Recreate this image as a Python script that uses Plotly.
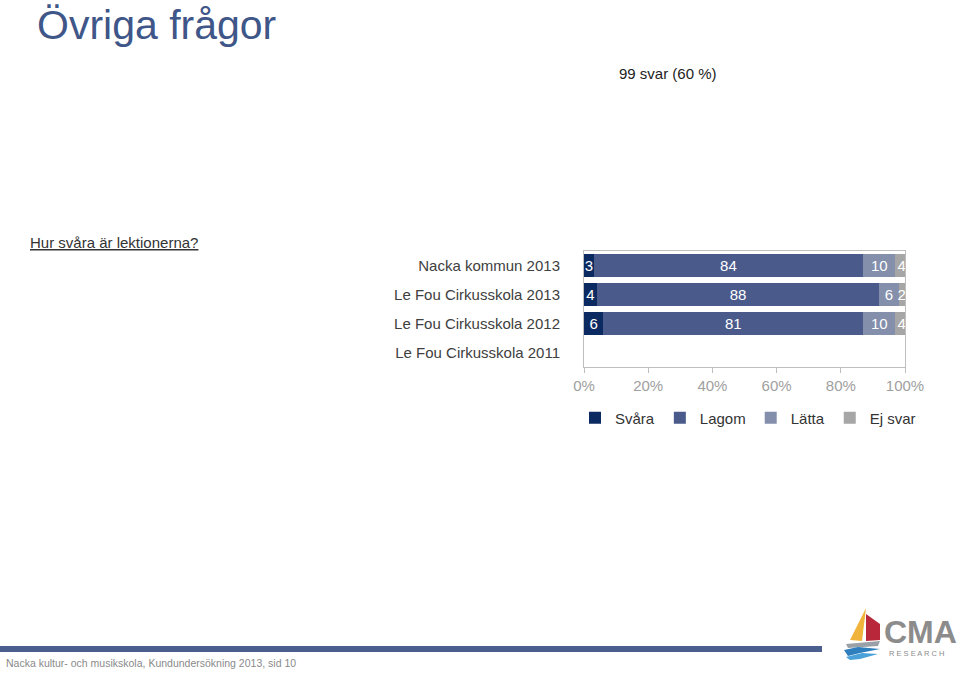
import plotly.graph_objects as go

categories = ["Nacka kommun 2013", "Le Fou Cirkusskola 2013", "Le Fou Cirkusskola 2012", "Le Fou Cirkusskola 2011"]
series_names = ["Svåra", "Lagom", "Lätta", "Ej svar"]
svara = [3, 4, 6, None]
lagom = [84, 88, 81, None]
latta = [10, 6, 10, None]
ej_svar = [4, 2, 4, None]
series_values = [svara, lagom, latta, ej_svar]
colors = ["#0c2a62", "#4a5b8b", "#838fab", "#a6a6a6"]
x_ticks = [0, 20, 40, 60, 80, 100]
x_ticklabels = ["0%", "20%", "40%", "60%", "80%", "100%"]

W, H = 960, 673
FONT = "Arial, Liberation Sans, sans-serif"

def px(x):
    return x / W

def py(y):
    return 1 - y / H

fig = go.Figure()
for name, vals, col in zip(series_names, series_values, colors):
    fig.add_trace(go.Bar(
        y=categories, x=vals, name=name, orientation="h",
        marker=dict(color=col, line=dict(width=0)),
        text=[("" if v is None else str(v)) for v in vals],
        textposition="inside", insidetextanchor="middle", textangle=0,
        textfont=dict(color="white", size=15, family=FONT),
        width=0.76, hoverinfo="skip",
    ))

fig.update_layout(
    width=W, height=H, autosize=False, barmode="stack",
    margin=dict(l=0, r=0, t=0, b=0, pad=0, autoexpand=False),
    paper_bgcolor="white", plot_bgcolor="white",
    font=dict(family=FONT, color="#333333"),
    uniformtext=dict(minsize=15, mode="show"),
    showlegend=True,
    legend=dict(orientation="h", x=px(748), xanchor="center", y=py(418), yanchor="middle",
                font=dict(size=15, color="#333333", family=FONT), itemwidth=30,
                traceorder="normal", bgcolor="rgba(0,0,0,0)"),
    xaxis=dict(domain=[px(584), px(905)], range=[0, 100], tickvals=x_ticks, ticktext=x_ticklabels,
               ticks="outside", ticklen=5, tickcolor="#bfbfbf", showgrid=False, zeroline=False,
               showline=True, linecolor="#bfbfbf", mirror=True, automargin=False,
               tickfont=dict(size=15, color="#a0a0a0", family=FONT), fixedrange=True),
    yaxis=dict(domain=[py(367), py(251)], categoryorder="array", categoryarray=categories,
               autorange="reversed", showgrid=False, zeroline=False,
               showline=True, linecolor="#bfbfbf", mirror=True, ticks="", automargin=False,
               ticklabelstandoff=20,
               tickfont=dict(size=15, color="#404040", family=FONT), fixedrange=True),
)

annotations = [
    dict(text="Övriga frågor", x=px(35), y=py(25), xanchor="left", yanchor="middle",
         font=dict(size=41, color="#3f5689", family=FONT)),
    dict(text="99 svar (60 %)", x=px(617), y=py(73), xanchor="left", yanchor="middle",
         font=dict(size=15, color="#222222", family=FONT)),
    dict(text="<u>Hur svåra är lektionerna?</u>", x=px(28), y=py(242), xanchor="left", yanchor="middle",
         font=dict(size=15, color="#333333", family=FONT)),
    dict(text="Nacka kultur- och musikskola, Kundundersökning 2013, sid 10", x=px(4), y=py(663),
         xanchor="left", yanchor="middle", font=dict(size=10.5, color="#8a8a8a", family=FONT)),
    dict(text="<b>CMA</b>", x=px(882), y=py(632), xanchor="left", yanchor="middle",
         font=dict(size=32, color="#8c8c8c", family=FONT)),
    dict(text="R E S E A R C H", x=px(887), y=py(653), xanchor="left", yanchor="middle",
         font=dict(size=7.5, color="#8c8c8c", family=FONT)),
]
for a in annotations:
    a.update(xref="paper", yref="paper", showarrow=False)
fig.update_layout(annotations=annotations)

def path(points):
    s = "M " + " L ".join(f"{px(x)} {py(y)}" for x, y in points) + " Z"
    return s

shapes = [
    dict(type="rect", x0=0, x1=px(822), y0=py(652), y1=py(646), fillcolor="#4b5f8f", line=dict(width=0)),
    dict(type="path", path=path([(866, 608), (850, 640), (862, 641)]), fillcolor="#f0b43c", line=dict(width=0)),
    dict(type="path", path=path([(866, 614), (880, 624), (880, 640), (866, 641)]), fillcolor="#b8283a", line=dict(width=0)),
    dict(type="path", path=path([(846, 644), (880, 641), (878, 646), (848, 648)]), fillcolor="#9aa0a8", line=dict(width=0)),
    dict(type="path", path=path([(844, 650), (858, 647), (880, 649), (860, 653), (848, 656)]), fillcolor="#2f7fbf", line=dict(width=0)),
    dict(type="path", path=path([(846, 657), (862, 653), (878, 654), (860, 659), (850, 660)]), fillcolor="#4aa0d8", line=dict(width=0)),
]
for s in shapes:
    s.update(xref="paper", yref="paper", layer="above")
fig.update_layout(shapes=shapes)

fig.write_html("out.html", config={"responsive": False},
               post_script="document.body.style.margin='0';document.body.style.overflow='hidden';")
